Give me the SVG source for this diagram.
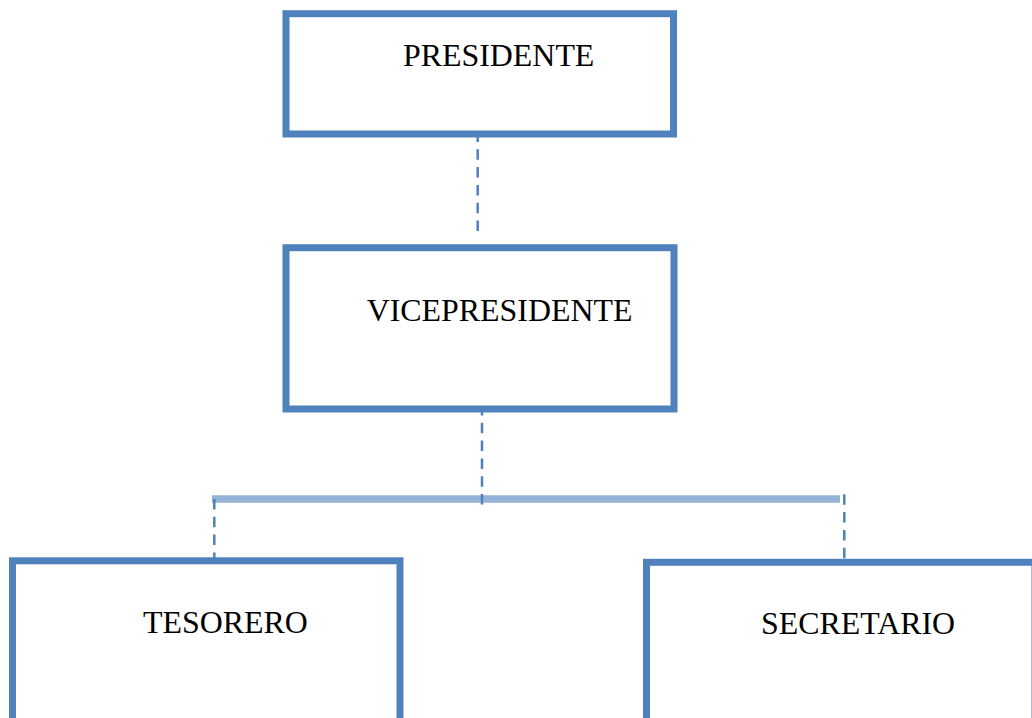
<svg xmlns="http://www.w3.org/2000/svg" width="1032" height="718" viewBox="0 0 1032 718">
<style>
.box{fill:#FFFFFF;stroke:#4F81BD;stroke-width:7}
.lbl{font-family:"Liberation Serif","Times New Roman",serif;font-size:31.9px;fill:#000000}
.dash{stroke:#4F81BD;stroke-width:2.5;stroke-dasharray:10.5 7.3;fill:none}
.bar{stroke:#95B3D7;stroke-width:7.5;fill:none}
</style>
<rect x="0" y="0" width="1032" height="718" fill="#FFFFFF"/>
<g id="connectors">
<line class="bar" x1="212" y1="499" x2="840" y2="499"/>
<line class="dash" x1="477.7" y1="131.5" x2="477.7" y2="231"/>
<line class="dash" x1="482" y1="405" x2="482" y2="505"/>
<line class="dash" x1="214.3" y1="499" x2="214.3" y2="560"/>
<line class="dash" x1="844.3" y1="494.3" x2="844.3" y2="561"/>
</g>
<g id="presidente">
<rect class="box" x="286" y="13.7" width="387.5" height="120.3"/>
<text class="lbl" x="403" y="66">PRESIDENTE</text>
</g>
<g id="vicepresidente">
<rect class="box" x="286" y="247.7" width="388" height="161.3"/>
<text class="lbl" x="366.7" y="320.7">VICEPRESIDENTE</text>
</g>
<g id="tesorero">
<rect class="box" x="12.5" y="560.8" width="387.5" height="180"/>
<text class="lbl" x="143" y="633">TESORERO</text>
</g>
<g id="secretario">
<rect class="box" x="646.5" y="562.3" width="388.5" height="180"/>
<text class="lbl" x="761" y="634">SECRETARIO</text>
</g>
</svg>
